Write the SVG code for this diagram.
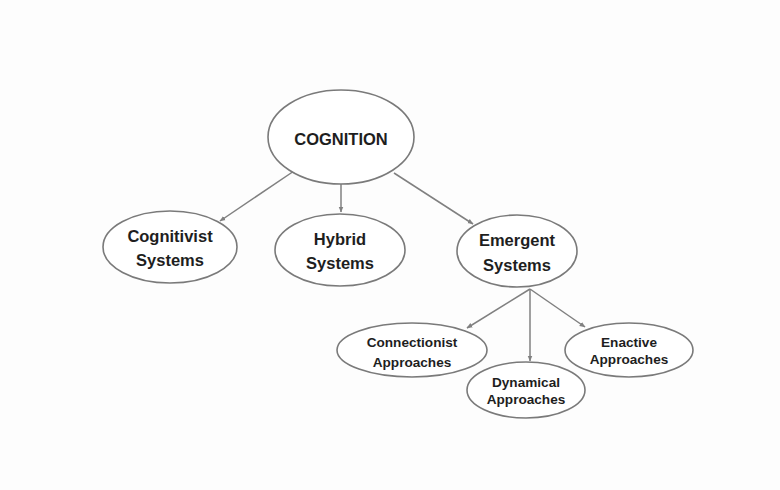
<svg xmlns="http://www.w3.org/2000/svg" width="780" height="490" viewBox="0 0 780 490">
<defs>
<style>
.n{fill:#fff;stroke:#7a7a7a;stroke-width:1.6}
.t{font-family:"Liberation Sans",Arial,sans-serif;font-weight:bold;fill:#1e1e1e;text-anchor:middle}
.b{font-size:16.5px}
.s{font-size:13.6px}
.c{stroke:#808080;stroke-width:1.5;fill:none;marker-end:url(#ah)}
</style>
<marker id="ah" viewBox="0 0 10 10" refX="9" refY="5" markerWidth="6" markerHeight="6" orient="auto" markerUnits="userSpaceOnUse">
<path d="M0,1 L10,5 L0,9 z" fill="#808080"/>
</marker>
</defs>
<rect width="780" height="490" fill="#fdfdfd"/>
<g id="connectors">
<line class="c" x1="294" y1="171" x2="220" y2="221"/>
<line class="c" x1="341" y1="184" x2="341" y2="212"/>
<line class="c" x1="394" y1="173" x2="473" y2="224"/>
<line class="c" x1="530" y1="289" x2="467" y2="328"/>
<line class="c" x1="530" y1="289" x2="530" y2="361"/>
<line class="c" x1="530" y1="289" x2="585" y2="327"/>
</g>
<g id="cognition">
<ellipse class="n" cx="341" cy="137" rx="73" ry="47"/>
<text class="t b" x="341" y="145">COGNITION</text>
</g>
<g id="cognitivist">
<ellipse class="n" cx="170" cy="247" rx="67" ry="36"/>
<text class="t b" x="170" y="242">Cognitivist</text>
<text class="t b" x="170" y="266">Systems</text>
</g>
<g id="hybrid">
<ellipse class="n" cx="340" cy="250" rx="65" ry="36"/>
<text class="t b" x="340" y="245">Hybrid</text>
<text class="t b" x="340" y="269">Systems</text>
</g>
<g id="emergent">
<ellipse class="n" cx="517" cy="251" rx="60" ry="36"/>
<text class="t b" x="517" y="246">Emergent</text>
<text class="t b" x="517" y="271">Systems</text>
</g>
<g id="connectionist">
<ellipse class="n" cx="412" cy="350" rx="75" ry="27"/>
<text class="t s" x="412" y="347">Connectionist</text>
<text class="t s" x="412" y="367">Approaches</text>
</g>
<g id="dynamical">
<ellipse class="n" cx="526" cy="390" rx="59" ry="28"/>
<text class="t s" x="526" y="387">Dynamical</text>
<text class="t s" x="526" y="404">Approaches</text>
</g>
<g id="enactive">
<ellipse class="n" cx="629" cy="350" rx="64" ry="27"/>
<text class="t s" x="629" y="347">Enactive</text>
<text class="t s" x="629" y="364">Approaches</text>
</g>
</svg>
